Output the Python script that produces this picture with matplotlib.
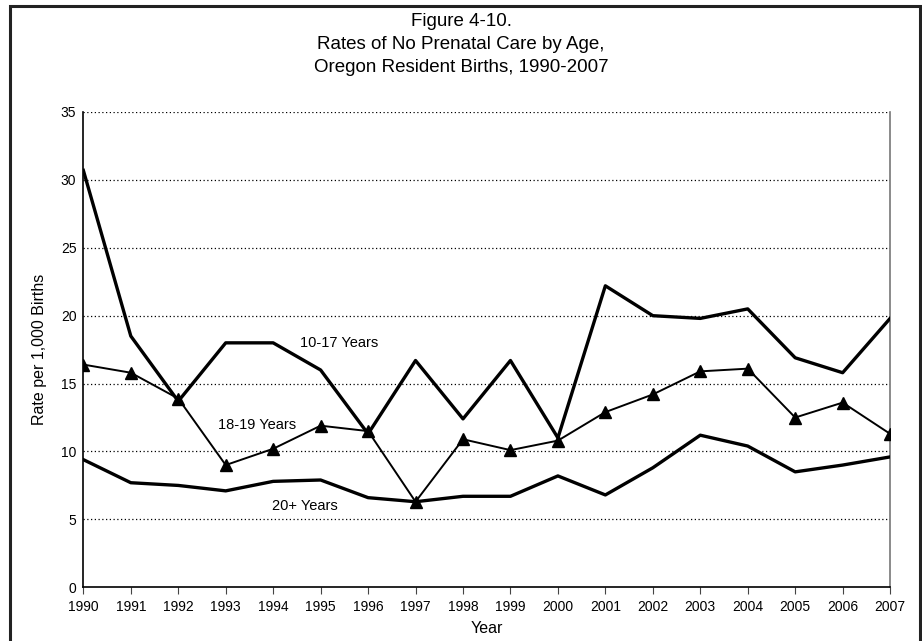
import matplotlib.pyplot as plt
from matplotlib.patches import Rectangle

# ---------------------------------
# Data
# ---------------------------------
years = list(range(1990, 2008))

age_10_17 = [30.7, 18.5, 13.7, 18.0, 18.0, 16.0, 11.3, 16.7, 12.4,
             16.7, 11.0, 22.2, 20.0, 19.8, 20.5, 16.9, 15.8, 19.8]
age_18_19 = [16.4, 15.8, 13.9, 9.0, 10.2, 11.9, 11.5, 6.3, 10.9,
             10.1, 10.8, 12.9, 14.2, 15.9, 16.1, 12.5, 13.6, 11.3]
age_20_plus = [9.4, 7.7, 7.5, 7.1, 7.8, 7.9, 6.6, 6.3, 6.7,
               6.7, 8.2, 6.8, 8.8, 11.2, 10.4, 8.5, 9.0, 9.6]

y_ticks = [0, 5, 10, 15, 20, 25, 30, 35]

title_lines = ["Figure 4-10.",
               "Rates of No Prenatal Care by Age,",
               "Oregon Resident Births, 1990-2007"]

plt.rcParams['font.family'] = ['Liberation Sans', 'DejaVu Sans']

# ---------------------------------
# Figure
# ---------------------------------
fig = plt.figure(figsize=(9.22, 6.41), dpi=100)
ax = fig.add_axes([0.0904, 0.0838, 0.875, 0.7415])

# frame around the whole figure
fig.patches.append(Rectangle((10 / 922, -0.01), 910 / 922, 1 - 6 / 641 + 0.01,
                             transform=fig.transFigure, fill=False,
                             edgecolor='#222222', linewidth=2.2))

ax.plot(years, age_10_17, color='black', linewidth=2.4, zorder=3)
ax.plot(years, age_18_19, color='black', linewidth=1.4, marker='^',
        markersize=8, zorder=4)
ax.plot(years, age_20_plus, color='black', linewidth=2.4, zorder=3)

# series labels
ax.text(1995.4, 18.0, "10-17 Years", fontsize=10.5, ha='center', va='center')
ax.text(1993.67, 11.95, "18-19 Years", fontsize=10.5, ha='center', va='center')
ax.text(1994.67, 5.95, "20+ Years", fontsize=10.5, ha='center', va='center')

# ---------------------------------
# Axes
# ---------------------------------
ax.set_xlim(1990, 2007)
ax.set_ylim(0, 35)
ax.set_xticks(years)
ax.set_yticks(y_ticks)
ax.tick_params(axis='x', direction='out', length=5, width=0.8,
               labelsize=10, pad=4, color='#444444')
ax.tick_params(axis='y', length=0, labelsize=10, pad=5)

for y in y_ticks[1:]:
    ax.axhline(y, color='black', linewidth=0.9, linestyle=(0, (1, 2)), zorder=1)

ax.spines['top'].set_visible(False)
ax.spines['right'].set_color('#777777')
ax.spines['right'].set_linewidth(1.2)
ax.spines['left'].set_linewidth(1.2)
ax.spines['bottom'].set_linewidth(1.2)

ax.set_xlabel("Year", fontsize=11.5, labelpad=5)
ax.set_ylabel("Rate per 1,000 Births", fontsize=11.5, labelpad=10)

# title, one text per line
for i, line in enumerate(title_lines):
    fig.text(0.5, 1 - (21 + 23.5 * i) / 641, line, fontsize=13.5,
             ha='center', va='center')

plt.savefig("out.png", dpi=100)
